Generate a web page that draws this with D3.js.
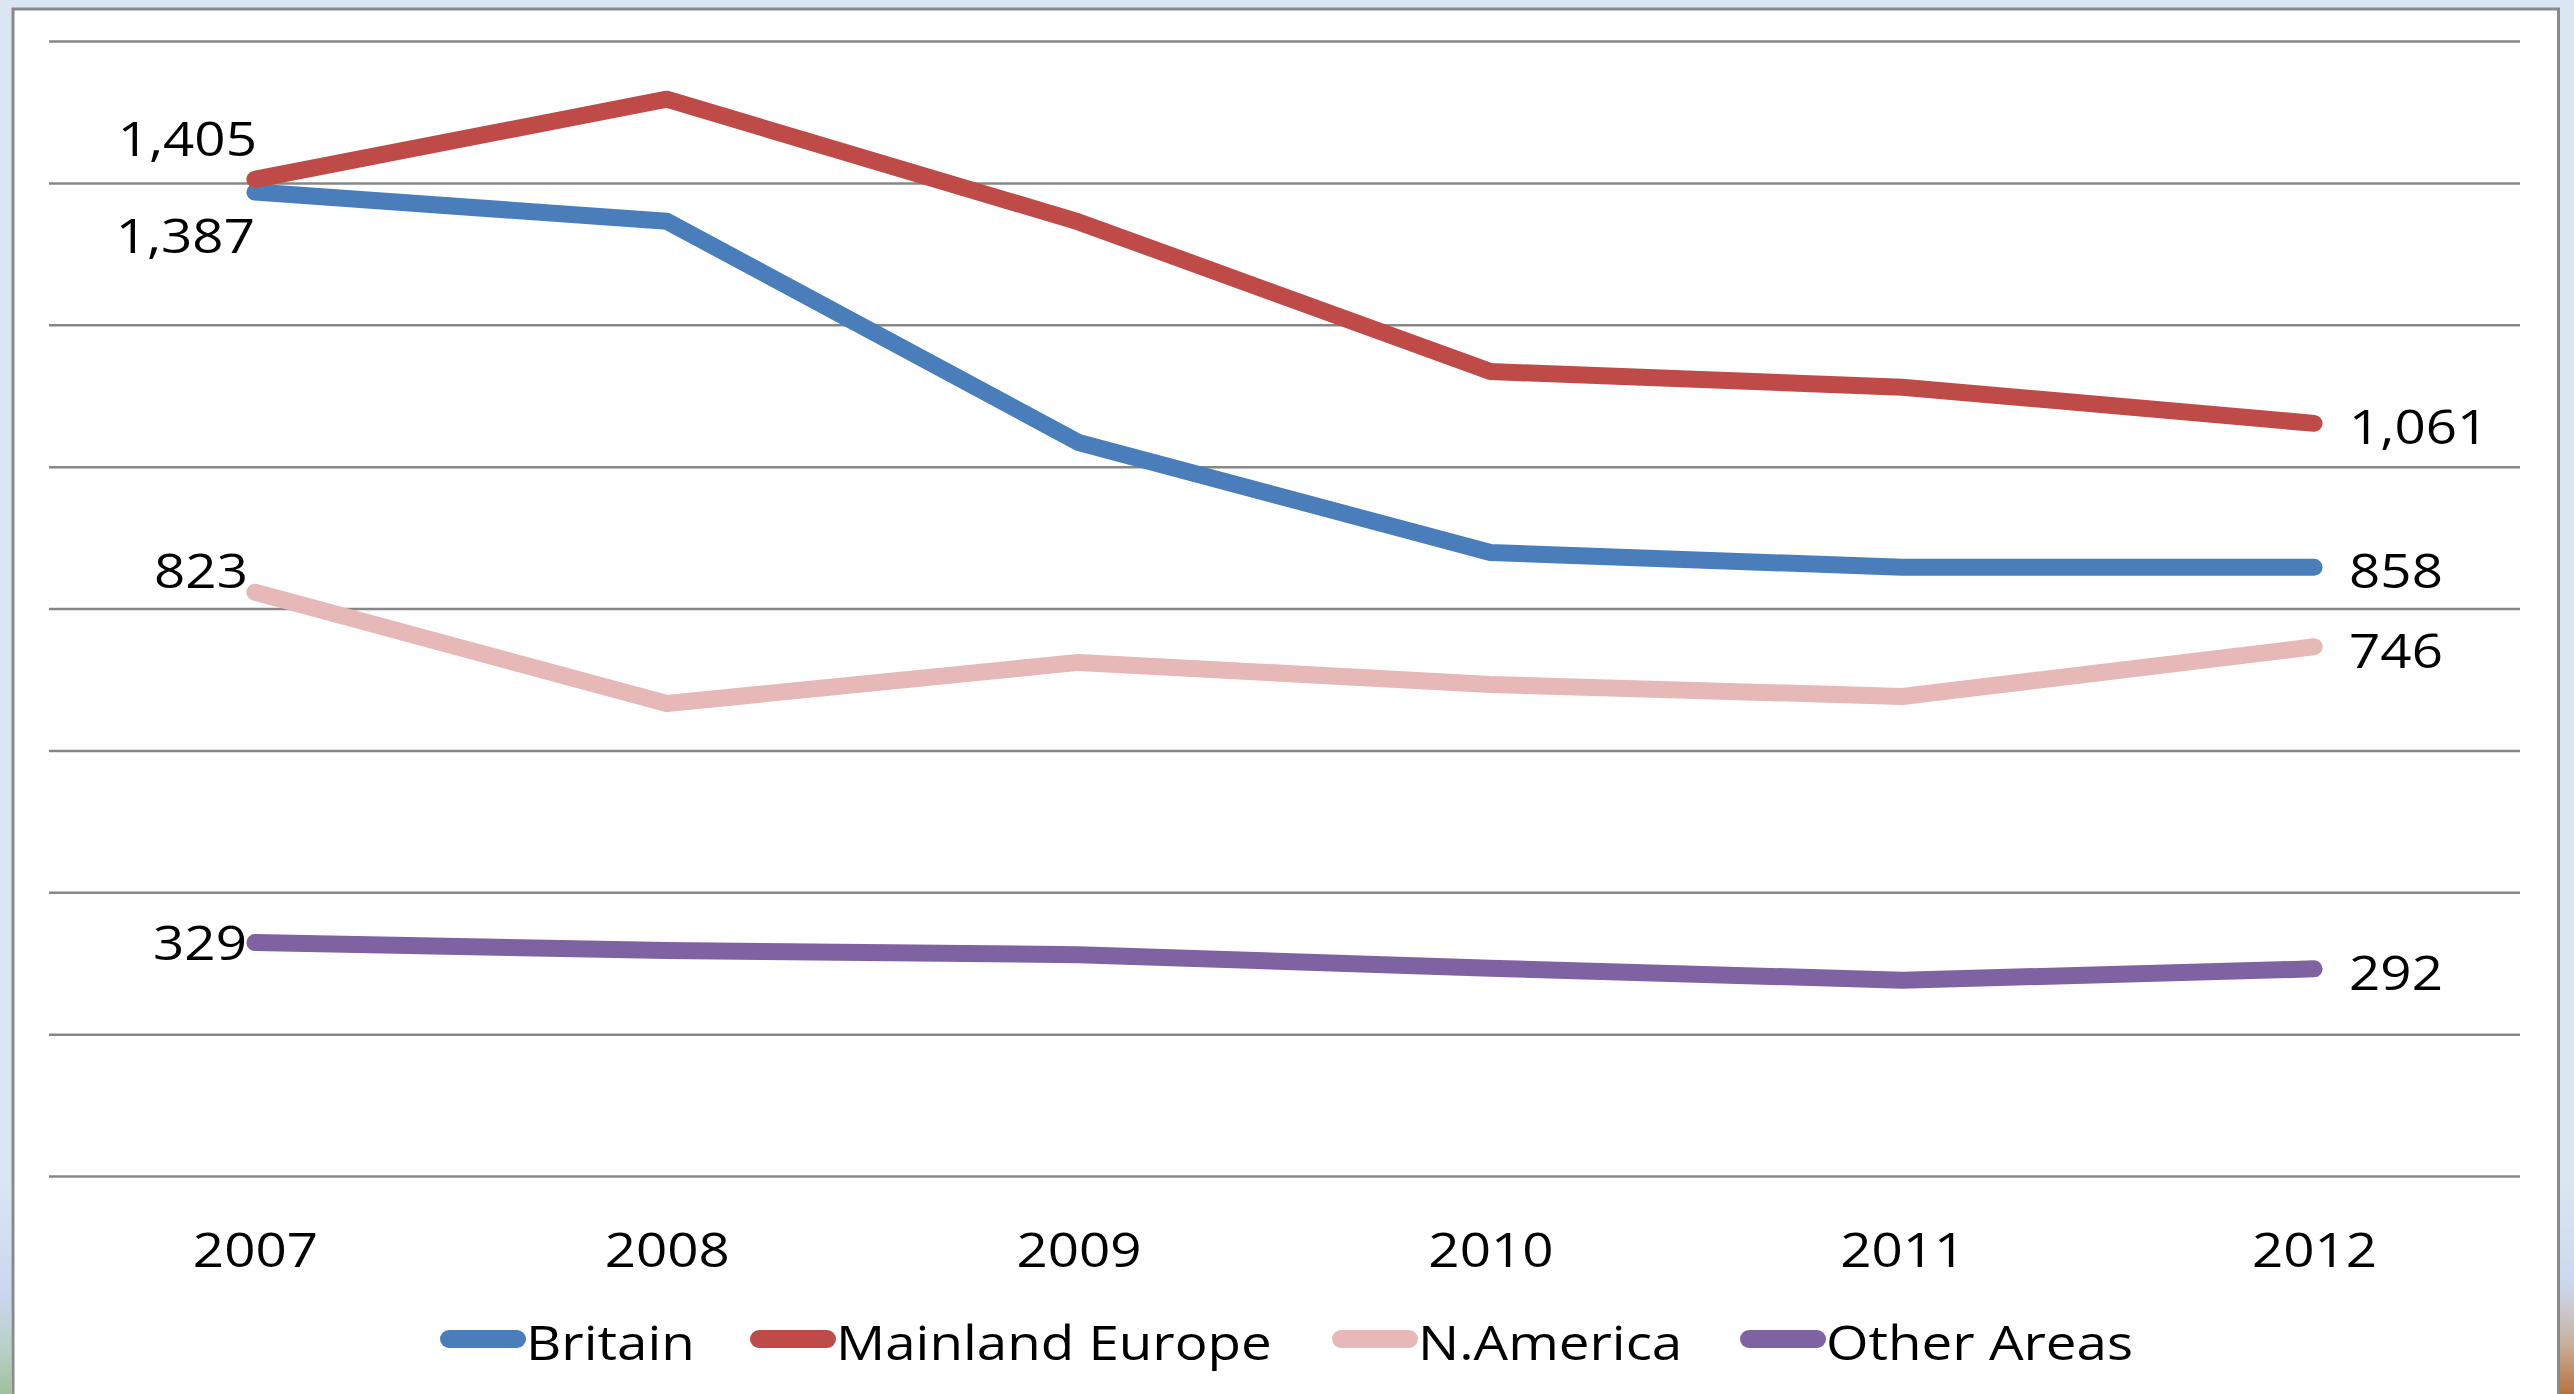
<!DOCTYPE html>
<html>
<head>
<meta charset="utf-8">
<script src="https://cdn.jsdelivr.net/npm/d3@7/dist/d3.min.js"></script>
<style>
  html, body { margin: 0; padding: 0; background: #dbe6f4; overflow: hidden; }
  svg { display: block; }
  text { font-family: "Open Sans", "Liberation Sans", sans-serif; fill: #000; }
</style>
</head>
<body>
<svg id="chart" width="2574" height="1394"></svg>
<script>
// Visitors by region, 2007-2012
const years = ["2007", "2008", "2009", "2010", "2011", "2012"];
const seriesNames = ["Britain", "Mainland Europe", "N.America", "Other Areas"];
const britain = [1387, 1346, 1034, 879, 858, 858];
const mainlandEurope = [1405, 1518, 1345, 1134, 1112, 1061];
const nAmerica = [823, 666, 724, 693, 676, 746];
const otherAreas = [329, 318, 312, 293, 276, 292];
const yTicks = [0, 200, 400, 600, 800, 1000, 1200, 1400, 1600];

const seriesValues = [britain, mainlandEurope, nAmerica, otherAreas];
const colors = ["#4a7ebb", "#be4b48", "#e6b9b8", "#7f62a1"];

// where each end label sits relative to its point
const firstLabelNudge = [
  { dx: 0, dy: 44 },   // Britain: below
  { dx: 2, dy: -40 },  // Mainland Europe: above
  { dx: -7, dy: -21 }, // N.America: above-left
  { dx: -8, dy: 0 }    // Other Areas: left
];
const lastLabelNudge = { dx: 35, dy: 4 };

const W = 2574, H = 1394;
const plot = { left: 49, right: 2520, top: 41, bottom: 1176 };
const fontSize = 48, stretch = 1.14, capHalf = 17;

const svg = d3.select("#chart");

// corner strips of the backdrop
const defs = svg.append("defs");
const gl = defs.append("linearGradient").attr("id", "edgeL").attr("x1", 0).attr("y1", 0).attr("x2", 0).attr("y2", 1);
gl.append("stop").attr("offset", 0).attr("stop-color", "#dbe6f4");
gl.append("stop").attr("offset", 0.55).attr("stop-color", "#c9d6ee");
gl.append("stop").attr("offset", 0.8).attr("stop-color", "#b9cfc4");
gl.append("stop").attr("offset", 1).attr("stop-color", "#9fbf9e");
const gr = defs.append("linearGradient").attr("id", "edgeR").attr("x1", 0).attr("y1", 0).attr("x2", 0).attr("y2", 1);
gr.append("stop").attr("offset", 0).attr("stop-color", "#dbe6f4");
gr.append("stop").attr("offset", 0.5).attr("stop-color", "#cbd7ee");
gr.append("stop").attr("offset", 0.75).attr("stop-color", "#c9b3a0");
gr.append("stop").attr("offset", 1).attr("stop-color", "#b7733f");

svg.append("rect").attr("x", 0).attr("y", 0).attr("width", W).attr("height", H).attr("fill", "#dbe6f4");
svg.append("rect").attr("x", 0).attr("y", 1180).attr("width", 11).attr("height", 214).attr("fill", "url(#edgeL)");
svg.append("rect").attr("x", 2560).attr("y", 1180).attr("width", 14).attr("height", 214).attr("fill", "url(#edgeR)");

// chart area
svg.append("rect")
  .attr("x", 13).attr("y", 9)
  .attr("width", 2558.5 - 13).attr("height", H + 20)
  .attr("fill", "#ffffff")
  .attr("stroke", "#8a8a8a").attr("stroke-width", 3);

const x = d3.scalePoint().domain(years).range([plot.left, plot.right]).padding(0.5);
const y = d3.scaleLinear().domain([0, 1600]).range([plot.bottom, plot.top]);

// horizontal gridlines
svg.append("g")
  .attr("transform", `translate(${plot.left},0)`)
  .call(d3.axisLeft(y).tickValues(yTicks).tickSize(-(plot.right - plot.left)).tickFormat(""))
  .call(g => g.select(".domain").remove())
  .call(g => g.selectAll(".tick line").attr("stroke", "#878787").attr("stroke-width", 2.5));

// category axis labels
const xAxis = svg.append("g")
  .attr("transform", `translate(0,${plot.bottom})`)
  .call(d3.axisBottom(x).tickSize(0).tickPadding(0));
xAxis.select(".domain").remove();
xAxis.selectAll(".tick text")
  .attr("font-size", null)
  .attr("dy", null)
  .attr("y", null)
  .attr("transform", `translate(0,91) scale(${stretch},1)`)
  .style("font-size", fontSize + "px")
  .style("font-family", '"Open Sans", "Liberation Sans", sans-serif')
  .attr("fill", "#000");

// series lines
const line = d3.line().x((d, i) => x(years[i])).y(d => y(d));
svg.append("g").selectAll("path")
  .data(seriesValues)
  .join("path")
  .attr("d", d => line(d))
  .attr("fill", "none")
  .attr("stroke", (d, i) => colors[i])
  .attr("stroke-width", 17)
  .attr("stroke-linecap", "round")
  .attr("stroke-linejoin", "round");

const fmt = d3.format(",");

// value labels at first and last year
const labels = svg.append("g");
seriesValues.forEach((vals, i) => {
  const n = firstLabelNudge[i];
  labels.append("text")
    .attr("text-anchor", "end")
    .attr("transform", `translate(${x(years[0]) + n.dx},${y(vals[0]) + n.dy + capHalf}) scale(${stretch},1)`)
    .style("font-size", fontSize + "px")
    .text(fmt(vals[0]));
  const last = vals[vals.length - 1];
  labels.append("text")
    .attr("text-anchor", "start")
    .attr("transform", `translate(${x(years[years.length - 1]) + lastLabelNudge.dx},${y(last) + lastLabelNudge.dy + capHalf}) scale(${stretch},1)`)
    .style("font-size", fontSize + "px")
    .text(fmt(last));
});

// legend
const legendX = [440, 750, 1332, 1740];
const legendY = 1339;
const legend = svg.append("g");
seriesNames.forEach((name, i) => {
  const lx = legendX[i];
  legend.append("line")
    .attr("x1", lx + 9).attr("x2", lx + 77)
    .attr("y1", legendY).attr("y2", legendY)
    .attr("stroke", colors[i]).attr("stroke-width", 18)
    .attr("stroke-linecap", "round");
  legend.append("text")
    .attr("transform", `translate(${lx + 86},${legendY + 21}) scale(${stretch},1)`)
    .style("font-size", fontSize + "px")
    .text(name);
});
</script>
</body>
</html>
